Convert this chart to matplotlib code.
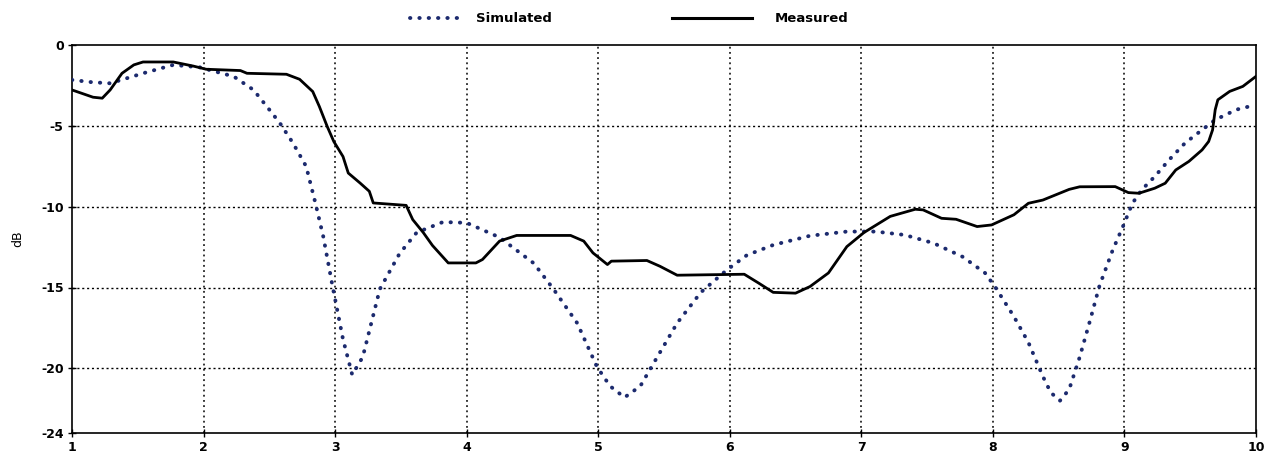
import matplotlib
matplotlib.use("Agg")
import matplotlib.pyplot as plt
from matplotlib.lines import Line2D

# ---- data ----
sim_x = [1.0, 1.15, 1.29, 1.54, 1.77, 1.97, 2.23, 2.38, 2.5, 2.58, 2.68, 2.78, 2.85, 2.91, 2.98,
         3.06, 3.13, 3.21, 3.34, 3.49, 3.62, 3.82, 4.0, 4.25, 4.51, 4.66, 4.84, 4.99, 5.09, 5.2,
         5.32, 5.42, 5.6, 5.78, 5.98, 6.13, 6.33, 6.61, 6.89, 7.11, 7.33, 7.55, 7.77, 7.94, 8.02,
         8.16, 8.27, 8.38, 8.44, 8.51, 8.58, 8.66, 8.74, 8.81, 8.91, 8.99, 9.06, 9.13, 9.23, 9.34,
         9.46, 9.59, 9.69, 9.85, 10.0]
sim_y = [-2.16, -2.3, -2.37, -1.75, -1.23, -1.38, -1.95, -2.78, -4.0, -4.83, -6.07, -7.51, -9.77,
         -11.85, -14.9, -18.2, -20.4, -19.3, -15.1, -12.9, -11.6, -10.95, -11.0, -11.9, -13.5,
         -15.1, -17.2, -19.9, -21.1, -21.8, -21.1, -19.7, -17.2, -15.3, -13.9, -13.0, -12.37,
         -11.8, -11.54, -11.54, -11.75, -12.26, -13.1, -14.1, -15.0, -16.8, -18.4, -20.5, -21.5,
         -22.0, -21.3, -19.3, -17.0, -14.9, -12.7, -11.2, -9.8, -8.97, -8.14, -7.1, -6.07, -5.25,
         -4.63, -4.0, -3.7]

meas_x = [1.0, 1.16, 1.23, 1.29, 1.38, 1.47, 1.54, 1.77, 1.92, 2.02, 2.28, 2.33, 2.63, 2.73, 2.83,
          2.88, 2.94, 2.99, 3.06, 3.10, 3.19, 3.26, 3.29, 3.54, 3.59, 3.67, 3.74, 3.86, 4.07, 4.12,
          4.25, 4.38, 4.79, 4.89, 4.96, 5.07, 5.10, 5.37, 5.47, 5.6, 6.11, 6.22, 6.33, 6.5, 6.61,
          6.75, 6.89, 7.02, 7.22, 7.41, 7.47, 7.61, 7.72, 7.88, 7.99, 8.16, 8.27, 8.38, 8.58, 8.66,
          8.93, 9.03, 9.11, 9.23, 9.31, 9.39, 9.49, 9.59, 9.64, 9.67, 9.69, 9.71, 9.8, 9.9, 10.0]
meas_y = [-2.78, -3.23, -3.29, -2.78, -1.75, -1.23, -1.05, -1.05, -1.3, -1.5, -1.58, -1.75, -1.81,
          -2.12, -2.88, -3.8, -5.04, -5.97, -6.9, -7.92, -8.54, -9.05, -9.77, -9.92, -10.8, -11.6,
          -12.4, -13.48, -13.48, -13.27, -12.13, -11.78, -11.78, -12.13, -12.86, -13.58, -13.37,
          -13.33, -13.69, -14.24, -14.18, -14.73, -15.3, -15.35, -14.94, -14.1, -12.47, -11.6,
          -10.6, -10.16, -10.2, -10.72, -10.78, -11.23, -11.13, -10.5, -9.79, -9.59, -8.93, -8.77,
          -8.76, -9.13, -9.17, -8.86, -8.55, -7.73, -7.2, -6.49, -5.97, -5.25, -4.0, -3.39, -2.87,
          -2.56, -1.94]

x_ticks = [1, 2, 3, 4, 5, 6, 7, 8, 9, 10]
y_ticks = [0, -5, -10, -15, -20, -24]
labels = ["Simulated", "Measured"]

# ---- figure ----
fig = plt.figure(figsize=(12.7, 4.63), dpi=100)
ax = fig.add_axes([72 / 1270, 30 / 463, (1256 - 72) / 1270, (433 - 45) / 463])

sim_color = "#1c2a6e"
ax.plot(sim_x, sim_y, color=sim_color, lw=2.8, linestyle=(0, (0.1, 2.3)),
        dash_capstyle="round", zorder=3)
ax.plot(meas_x, meas_y, color="black", lw=2.0, zorder=4)

ax.set_xlim(1, 10)
ax.set_ylim(-24, 0)
ax.set_xticks(x_ticks)
ax.set_yticks(y_ticks)
ax.set_xticklabels([str(t) for t in x_ticks], fontweight="bold", fontsize=9)
ax.set_yticklabels([str(t) for t in y_ticks], fontweight="bold", fontsize=9)
ax.tick_params(axis="both", direction="inout", length=6, width=1, pad=3)

for v in x_ticks[1:-1]:
    ax.axvline(v, color="black", lw=1.1, linestyle=(0, (1.2, 2.2)), zorder=1)
for h in [-5, -10, -15, -20]:
    ax.axhline(h, color="black", lw=1.0, linestyle=(0, (1.5, 2.0)), zorder=1)

for s in ax.spines.values():
    s.set_linewidth(1.2)
    s.set_color("black")

ax.set_ylabel("dB", fontsize=9, labelpad=12)

# legend drawn above the plot
fig.add_artist(Line2D([410 / 1270, 462 / 1270], [1 - 18 / 463, 1 - 18 / 463], color=sim_color,
                      lw=2.8, linestyle=(0, (0.1, 2.3)), dash_capstyle="round"))
fig.text(476 / 1270, 1 - 18 / 463, labels[0], fontsize=9.5, fontweight="bold", va="center", ha="left")
fig.add_artist(Line2D([672 / 1270, 752 / 1270], [1 - 18 / 463, 1 - 18 / 463], color="black", lw=2.2))
fig.text(775 / 1270, 1 - 18 / 463, labels[1], fontsize=9.5, fontweight="bold", va="center", ha="left")

fig.savefig("out.png", dpi=100)
